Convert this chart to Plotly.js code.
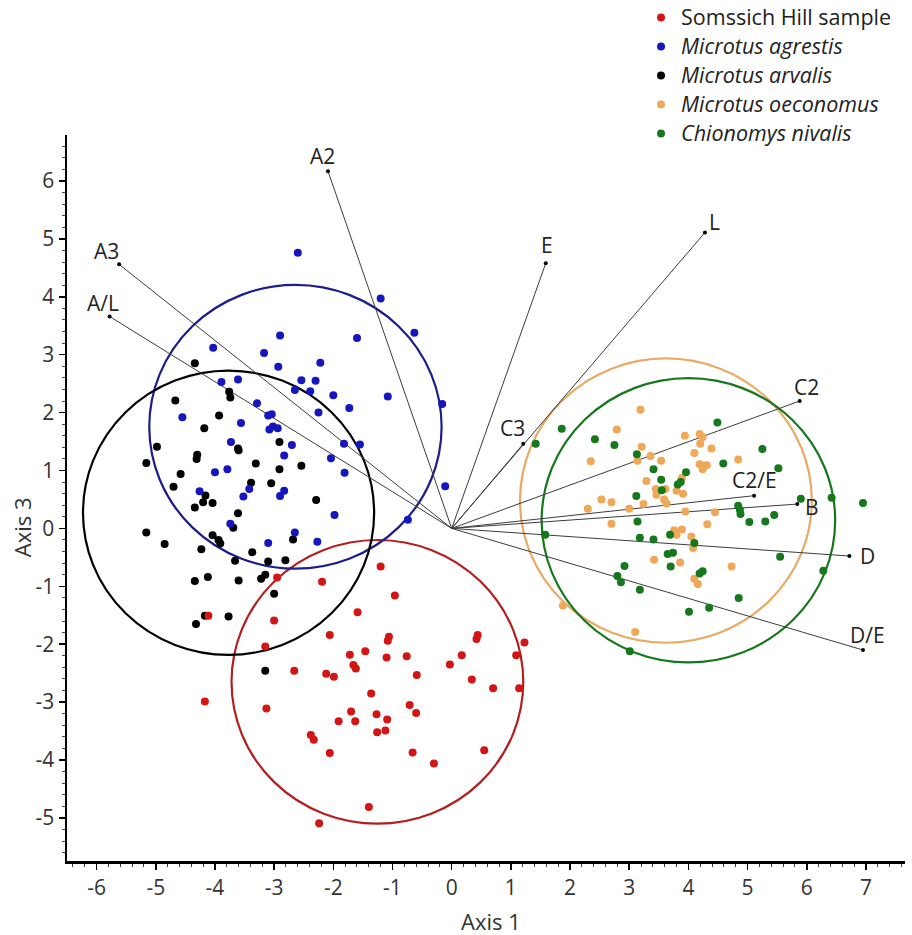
<!DOCTYPE html>
<html>
<head>
<meta charset="utf-8">
<script src="https://cdn.plot.ly/plotly-3.0.1.min.js"></script>
<style>html,body{margin:0;padding:0;background:#fff;}#chart{width:912px;height:935px;}</style>
</head>
<body>
<div id="chart"></div>
<script>
// ---------- DATA ----------
const groupNames = ['Somssich Hill sample', '<i>Microtus agrestis</i>', '<i>Microtus arvalis</i>', '<i>Microtus oeconomus</i>', '<i>Chionomys nivalis</i>'];

const somssichX = [-1.20,-2.19,-2.95,-0.96,-1.59,-3.00,-4.11,-2.06,-1.06,-1.08,0.44,0.42,1.23,-3.15,-1.72,-1.46,-1.10,-0.76,0.17,1.09,-0.03,-1.66,-1.62,-2.66,-2.12,-1.99,-0.59,0.34,0.70,1.14,-1.36,-4.17,-3.13,-0.71,-0.60,-1.70,-1.27,-1.09,-1.91,-1.63,-1.26,-1.12,-2.38,-2.33,-2.06,-0.66,-0.30,0.55,-1.40,-2.24];
const somssichY = [-0.66,-0.92,-0.85,-1.16,-1.45,-1.59,-1.51,-1.84,-1.87,-1.94,-1.84,-1.91,-1.97,-2.04,-2.18,-2.12,-2.23,-2.21,-2.19,-2.19,-2.35,-2.36,-2.42,-2.46,-2.51,-2.56,-2.53,-2.61,-2.76,-2.76,-2.85,-2.99,-3.11,-3.05,-3.19,-3.16,-3.21,-3.30,-3.33,-3.33,-3.52,-3.49,-3.57,-3.65,-3.88,-3.87,-4.06,-3.83,-4.81,-5.09];

const agrestisX = [-2.60,-1.20,-0.63,-1.60,-2.90,-4.03,-3.17,-2.22,-2.93,-3.89,-3.61,-2.54,-2.30,-2.65,-2.39,-2.00,-1.08,-1.73,-2.25,-0.16,-3.29,-3.10,-3.04,-4.55,-3.56,-3.08,-3.02,-2.94,-3.73,-2.70,-1.82,-1.55,-2.83,-2.04,-4.00,-3.79,-1.81,-0.11,-4.26,-3.42,-2.83,-3.52,-2.90,-0.74,-1.98,-3.74,-2.65,-3.10,-2.27];
const agrestisY = [4.76,3.97,3.38,3.29,3.33,3.12,3.03,2.86,2.79,2.53,2.57,2.56,2.55,2.39,2.37,2.30,2.28,2.08,2.00,2.15,2.16,1.95,1.97,1.92,1.82,1.71,1.76,1.73,1.49,1.44,1.46,1.45,1.26,1.21,0.97,1.02,0.96,0.73,0.64,0.68,0.65,0.55,0.56,0.15,0.23,0.08,-0.07,-0.25,-0.23];

const arvalisX = [-4.34,-3.76,-3.74,-4.67,-3.93,-4.18,-2.91,-4.98,-3.61,-3.60,-4.30,-4.31,-5.16,-3.31,-2.54,-2.91,-4.58,-4.70,-3.39,-3.05,-4.16,-4.20,-4.04,-4.34,-3.61,-2.29,-3.69,-5.16,-4.85,-4.04,-3.94,-3.91,-4.23,-2.68,-3.37,-3.66,-3.10,-2.81,-4.34,-4.12,-3.60,-3.22,-3.15,-3.00,-4.17,-3.77,-4.32,-3.15];
const arvalisY = [2.85,2.36,2.26,2.21,1.95,1.73,1.49,1.41,1.38,1.35,1.27,1.20,1.13,1.12,1.08,1.02,0.94,0.72,0.79,0.78,0.57,0.45,0.44,0.36,0.26,0.49,0.01,-0.07,-0.27,-0.12,-0.20,-0.26,-0.36,-0.19,-0.41,-0.56,-0.57,-0.55,-0.91,-0.84,-0.90,-0.87,-0.80,-1.13,-1.51,-1.52,-1.65,-2.46];

const oeconomusX = [3.19,2.79,3.94,4.19,4.24,4.20,4.39,3.21,2.35,3.36,3.14,3.54,4.10,4.19,4.27,4.31,4.24,4.84,3.29,3.45,3.61,3.89,3.80,3.91,3.46,2.53,2.70,2.30,3.00,3.24,3.59,3.63,3.95,4.45,2.70,3.76,3.89,3.80,4.05,4.08,4.32,3.42,3.86,4.73,4.10,4.16,1.88,3.10];
const oeconomusY = [2.05,1.71,1.60,1.63,1.58,1.46,1.38,1.41,1.16,1.25,1.17,1.17,1.30,1.11,1.08,1.09,1.02,1.19,0.82,0.68,0.68,0.87,0.65,0.60,0.58,0.50,0.45,0.34,0.34,0.42,0.50,0.43,0.29,0.28,0.08,-0.03,-0.02,-0.11,-0.14,-0.34,0.07,-0.54,-0.59,-0.66,-0.87,-0.96,-1.33,-1.79];

const nivalisX = [1.86,2.42,2.75,3.13,3.41,3.96,3.54,3.82,3.87,3.55,3.12,4.49,1.42,3.14,1.58,3.18,3.41,3.69,4.10,3.65,3.74,3.70,2.92,2.80,2.86,4.19,4.24,3.18,4.01,4.35,5.25,4.59,5.52,5.90,6.42,6.95,4.84,4.87,4.88,5.03,5.30,5.45,5.55,6.28,4.85,3.01];
const nivalisY = [1.72,1.54,1.44,1.28,1.02,0.97,0.84,0.76,0.80,0.66,0.56,1.83,1.46,0.12,-0.11,-0.16,-0.19,-0.11,-0.25,-0.44,-0.42,-0.66,-0.65,-0.82,-0.93,-0.78,-0.74,-1.06,-1.44,-1.37,1.37,1.12,1.04,0.51,0.53,0.44,0.39,0.32,0.25,0.11,0.12,0.23,-0.49,-0.73,-1.20,-2.12];

// group ellipses (centre and radii, in axis units), same order as groupNames
const ellipseCX = [-1.255, -2.64, -3.77, 3.62, 4.00];
const ellipseCY = [-2.65, 1.755, 0.27, 0.48, 0.14];
const ellipseRX = [2.465, 2.47, 2.46, 2.465, 2.48];
const ellipseRY = [2.45, 2.45, 2.455, 2.455, 2.455];

// variable vectors (biplot loadings)
const vectorNames = ['A2','A3','A/L','E','L','C3','C2','C2/E','B','D','D/E'];
const vectorX = [-2.09,-5.62,-5.78,1.59,4.28,1.21,5.88,5.11,5.84,6.72,6.95];
const vectorY = [6.17,4.56,3.66,4.58,5.11,1.46,2.20,0.565,0.42,-0.477,-2.10];

// tick labels
const xTickVals = [-6,-5,-4,-3,-2,-1,0,1,2,3,4,5,6,7];
const xTickText = ['-6','-5','-4','-3','-2','-1','0','1','2','3','4','5','6','7'];
const yTickVals = [-5,-4,-3,-2,-1,0,1,2,3,4,5,6];
const yTickText = ['-5','-4','-3','-2','-1','0','1','2','3','4','5','6'];

// ---------- STYLE ----------
const FONT = 'Open Sans, Noto Sans, DejaVu Sans, sans-serif';
const pointColors = ['rgb(210,22,22)','rgb(22,22,190)','rgb(0,0,0)','rgb(238,168,88)','rgb(22,120,28)'];
const ellipseColors = ['rgb(180,30,30)','rgb(28,28,140)','rgb(0,0,0)','rgb(232,170,100)','rgb(22,120,28)'];
const labelShiftX = [-5,-13,-7,1,10,-11,7,0,15,18,5];
const labelShiftY = [15.5,13.5,13,18,11,16,14,16,-2.5,0,15];

// ---------- TRACES ----------
const lineX = [], lineY = [];
vectorX.forEach((v, i) => { lineX.push(0, v, null); lineY.push(0, vectorY[i], null); });

const traces = [];
traces.push({x: lineX, y: lineY, mode: 'lines', type: 'scatter', showlegend: false, hoverinfo: 'skip',
  line: {color: 'rgb(60,60,60)', width: 1}});
traces.push({x: vectorX, y: vectorY, mode: 'markers', type: 'scatter', showlegend: false,
  marker: {color: '#000', size: 4}});

const groupsX = [somssichX, agrestisX, arvalisX, oeconomusX, nivalisX];
const groupsY = [somssichY, agrestisY, arvalisY, oeconomusY, nivalisY];
const drawOrder = [2, 1, 0, 3, 4];
drawOrder.forEach(g => {
  traces.push({x: groupsX[g], y: groupsY[g],
    name: '<span style="font-size:21.5px">' + groupNames[g] + '</span>', legendrank: g + 1,
    mode: 'markers', type: 'scatter', marker: {color: pointColors[g], size: 8}});
});

const shapes = ellipseCX.map((cx, i) => ({
  type: 'circle', xref: 'x', yref: 'y', layer: 'below',
  x0: cx - ellipseRX[i], x1: cx + ellipseRX[i],
  y0: ellipseCY[i] - ellipseRY[i], y1: ellipseCY[i] + ellipseRY[i],
  line: {color: ellipseColors[i], width: 2.2}
}));

const annotations = vectorNames.map((n, i) => ({
  text: n, x: vectorX[i], y: vectorY[i], xref: 'x', yref: 'y', showarrow: false,
  xshift: labelShiftX[i], yshift: labelShiftY[i], xanchor: 'center', yanchor: 'middle',
  font: {family: FONT, size: 21, color: '#222'}
}));
annotations.push({text: 'Axis 1', xref: 'paper', yref: 'paper', x: 0.506, y: -0.0826,
  xanchor: 'center', yanchor: 'middle', showarrow: false, font: {family: FONT, size: 22, color: '#333'}});
annotations.push({text: 'Axis 3', xref: 'paper', yref: 'y', x: -0.0537, y: 0.02, textangle: -90,
  xanchor: 'center', yanchor: 'middle', showarrow: false, font: {family: FONT, size: 22, color: '#333'}});

const axisCommon = {
  showline: true, linecolor: '#000', linewidth: 2.5, mirror: false,
  showgrid: false, zeroline: false,
  ticks: 'outside', ticklen: 6, tickwidth: 1.5, tickcolor: '#000',
  tickfont: {family: FONT, size: 21, color: '#333'},
  minor: {ticks: 'outside', dtick: 0.2, ticklen: 3, tickwidth: 1, tickcolor: '#444', showgrid: false},
  tickmode: 'array', fixedrange: true
};

const layout = {
  width: 912, height: 935,
  margin: {l: 67, r: 7, t: 135, b: 74, autoexpand: false},
  paper_bgcolor: '#fff', plot_bgcolor: '#fff',
  font: {family: FONT, color: '#222'},
  xaxis: Object.assign({}, axisCommon, {range: [-6.5, 7.66], tickvals: xTickVals, ticktext: xTickText, tick0: 0}),
  yaxis: Object.assign({}, axisCommon, {range: [-5.744, 6.794], tickvals: yTickVals, ticktext: yTickText, tick0: 0}),
  showlegend: true,
  legend: {x: 0.685, xanchor: 'left', y: 1.1886, yanchor: 'top', bgcolor: 'rgba(0,0,0,0)',
    font: {family: FONT, size: 20, color: '#222'}, itemsizing: 'trace', tracegroupgap: 0},
  shapes: shapes,
  annotations: annotations
};

Plotly.newPlot('chart', traces, layout, {displayModeBar: false, staticPlot: true});
</script>
</body>
</html>
